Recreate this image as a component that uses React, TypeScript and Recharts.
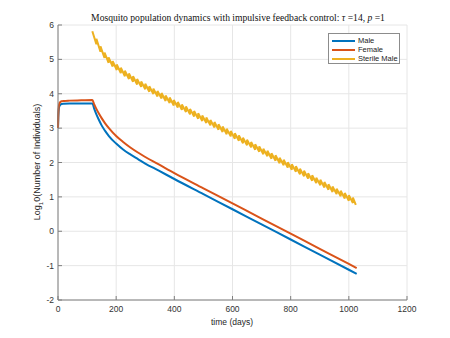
import React from 'react';
import { LineChart, Line, XAxis, YAxis, CartesianGrid, Legend } from 'recharts';

// days of each impulsive release of sterile males (tau = 14), last entry = end of run
const releaseDays = [
  118, 132, 146, 160, 174, 188, 202, 216, 230, 244, 258, 272, 286, 300, 314, 328, 342, 356, 370, 384,
  398, 412, 426, 440, 454, 468, 482, 496, 510, 524, 538, 552, 566, 580, 594, 608, 622, 636, 650, 664,
  678, 692, 706, 720, 734, 748, 762, 776, 790, 804, 818, 832, 846, 860, 874, 888, 902, 916, 930, 944,
  958, 972, 986, 1000, 1014, 1024,
];
// log10 of sterile males right after each release
const sterilePeaks = [
  5.82, 5.6, 5.38, 5.2, 5.06, 4.95, 4.85, 4.76, 4.67, 4.59, 4.51, 4.43, 4.36, 4.29, 4.22, 4.15, 4.08, 4.02, 3.95, 3.89,
  3.82, 3.76, 3.69, 3.63, 3.56, 3.5, 3.43, 3.37, 3.31, 3.24, 3.18, 3.11, 3.05, 2.98, 2.92, 2.85, 2.79, 2.72, 2.66, 2.6,
  2.53, 2.47, 2.4, 2.34, 2.27, 2.21, 2.14, 2.08, 2.01, 1.95, 1.89, 1.82, 1.76, 1.69, 1.63, 1.56, 1.5, 1.43, 1.37, 1.3,
  1.24, 1.18, 1.11, 1.05, 0.98,
];
// log10 of sterile males just before the next release
const sterileTroughs = [
  5.44, 5.22, 5.04, 4.9, 4.79, 4.69, 4.6, 4.51, 4.43, 4.35, 4.27, 4.2, 4.13, 4.06, 3.99, 3.92, 3.86, 3.79, 3.73, 3.66,
  3.6, 3.53, 3.47, 3.4, 3.34, 3.27, 3.21, 3.15, 3.08, 3.02, 2.95, 2.89, 2.82, 2.76, 2.69, 2.63, 2.56, 2.5, 2.44, 2.37,
  2.31, 2.24, 2.18, 2.11, 2.05, 1.98, 1.92, 1.85, 1.79, 1.73, 1.66, 1.6, 1.53, 1.47, 1.4, 1.34, 1.27, 1.21, 1.14, 1.08,
  1.02, 0.95, 0.89, 0.82, 0.77,
];

const popDays = [0, 1, 2, 3, 5, 8, 12, 20, 40, 80, 118, 125, 132, 140, 150, 162, 175, 200, 225, 250, 275, 300, 345, 400, 500, 600, 700, 800, 900, 1000, 1027];
const maleLog = [3.0, 3.3, 3.48, 3.57, 3.64, 3.68, 3.7, 3.71, 3.72, 3.72, 3.72, 3.55, 3.4, 3.25, 3.08, 2.92, 2.77, 2.55, 2.37, 2.23, 2.1, 1.97, 1.77, 1.52, 1.08, 0.64, 0.2, -0.24, -0.68, -1.12, -1.24];
const femaleLog = [3.0, 3.35, 3.55, 3.65, 3.72, 3.76, 3.78, 3.79, 3.8, 3.81, 3.82, 3.68, 3.56, 3.43, 3.29, 3.14, 3.0, 2.77, 2.59, 2.43, 2.29, 2.16, 1.95, 1.69, 1.25, 0.81, 0.37, -0.07, -0.51, -0.95, -1.07];

const xTicks = [0, 200, 400, 600, 800, 1000, 1200];
const yTicks = [-2, -1, 0, 1, 2, 3, 4, 5, 6];
const legendOrder = ['Male', 'Female', 'Sterile Male'];

const maleData = popDays.map((t, i) => ({ t, v: maleLog[i] }));
const femaleData = popDays.map((t, i) => ({ t, v: femaleLog[i] }));
const sterileData = sterilePeaks.flatMap((p, i) => [
  { t: releaseDays[i], v: p },
  { t: releaseDays[i + 1], v: sterileTroughs[i] },
]);

const sans = '"Liberation Sans", Arial, Helvetica, sans-serif';
const tickStyle = { fill: '#333', fontSize: 8.5, fontFamily: sans };

const renderLegend = (props: any) => {
  const items = [...(props.payload || [])].sort(
    (a: any, b: any) => legendOrder.indexOf(a.value) - legendOrder.indexOf(b.value)
  );
  return (
    <div
      style={{
        border: '1px solid #8c8c8c',
        background: '#fff',
        width: 70,
        height: 27,
        boxSizing: 'content-box',
        paddingTop: 2,
        fontFamily: sans,
        fontSize: 7.5,
        color: '#222',
      }}
    >
      {items.map((p: any) => (
        <div key={p.value} style={{ display: 'flex', alignItems: 'center', height: 9, whiteSpace: 'nowrap' }}>
          <span style={{ display: 'inline-block', width: 23, height: 2, background: p.color, marginLeft: 3, marginRight: 3 }} />
          <span>{p.value}</span>
        </div>
      ))}
    </div>
  );
};

export default function App() {
  return (
    <div style={{ position: 'absolute', left: 0, top: 0, width: 450, height: 338, background: '#fff' }}>
      <LineChart width={450} height={338} margin={{ top: 25, right: 43, bottom: 8, left: 18 }}>
        <CartesianGrid stroke="#e6e6e6" />
        <XAxis
          dataKey="t"
          type="number"
          domain={[0, 1200]}
          ticks={xTicks}
          height={30}
          stroke="#7f7f7f"
          tick={tickStyle}
          tickSize={-4}
          tickMargin={10}
        />
        <XAxis xAxisId="top" orientation="top" type="number" domain={[0, 1200]} ticks={xTicks} height={0} stroke="#7f7f7f" tick={false} tickSize={-4} />
        <YAxis
          type="number"
          domain={[-2, 6]}
          ticks={yTicks}
          width={40}
          stroke="#7f7f7f"
          tick={tickStyle}
          tickSize={-4}
          tickMargin={8}
        />
        <YAxis yAxisId="right" orientation="right" type="number" domain={[-2, 6]} ticks={yTicks} width={0} stroke="#7f7f7f" tick={false} tickSize={-4} />
        <Line data={maleData} dataKey="v" name="Male" type="monotone" stroke="#0072BD" strokeWidth={2} dot={false} isAnimationActive={false} />
        <Line data={femaleData} dataKey="v" name="Female" type="monotone" stroke="#D95319" strokeWidth={2} dot={false} isAnimationActive={false} />
        <Line data={sterileData} dataKey="v" name="Sterile Male" type="linear" stroke="#EDB120" strokeWidth={2} dot={false} isAnimationActive={false} />
        <Legend
          layout="vertical"
          align="center"
          verticalAlign="middle"
          content={renderLegend}
          wrapperStyle={{ top: 33, left: 328, width: 72, height: 30 }}
        />
      </LineChart>
      <div
        style={{
          position: 'absolute',
          left: 238,
          top: 13,
          transform: 'translateX(-50%)',
          whiteSpace: 'nowrap',
          fontFamily: '"Liberation Serif", "DejaVu Serif", serif',
          fontSize: 9.6,
          color: '#111',
          lineHeight: '10px',
        }}
      >
        Mosquito population dynamics with impulsive feedback control: <i>τ</i> =14, <i>p</i> =1
      </div>
      <div
        style={{
          position: 'absolute',
          left: 232,
          top: 317,
          transform: 'translateX(-50%)',
          whiteSpace: 'nowrap',
          fontFamily: sans,
          fontSize: 8.5,
          color: '#262626',
          lineHeight: '10px',
        }}
      >
        time (days)
      </div>
      <div
        style={{
          position: 'absolute',
          left: 37,
          top: 162,
          transform: 'translate(-50%, -50%) rotate(-90deg)',
          whiteSpace: 'nowrap',
          fontFamily: sans,
          fontSize: 9,
          color: '#262626',
          lineHeight: '10px',
        }}
      >
        Log<sub style={{ fontSize: 6, verticalAlign: 'sub', lineHeight: 0 }}>1</sub>0(Number of Individuals)
      </div>
    </div>
  );
}
